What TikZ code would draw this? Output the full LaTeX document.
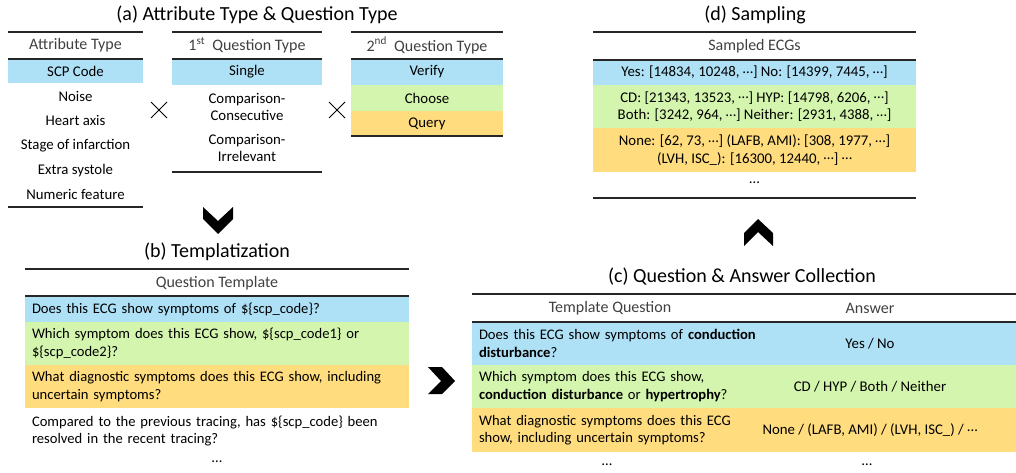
\documentclass[tikz,border=0pt]{standalone}
\usepackage{fontspec}
\setmainfont{Carlito}
\usetikzlibrary{shapes.misc}
\definecolor{qblue}{RGB}{174,224,246}
\definecolor{qgreen}{RGB}{212,245,173}
\definecolor{qorange}{RGB}{255,220,125}
\definecolor{hdgray}{RGB}{64,64,64}
\newcommand{\middots}{\raisebox{0.22em}{…}}

\begin{document}
\begin{tikzpicture}[x=1pt, y=-1pt]

\tikzset{
  ttl/.style={font=\fontsize{20}{24}\selectfont, inner sep=0pt},
  hd/.style={font=\fontsize{16}{18}\selectfont, text=hdgray, inner sep=0pt},
  cell/.style={font=\fontsize{14.8}{17.5}\selectfont, inner sep=0pt, align=center},
  qcell/.style={font=\fontsize{14.6}{17.5}\selectfont, inner xsep=7pt, inner ysep=0pt, align=left},
  rule/.style={line width=1.5pt, draw=black!85},
  chev/.style={fill=black},
  crs/.style={cross out, draw, line width=1pt, minimum size=15pt, inner sep=0pt},
}

\useasboundingbox (0,0) rectangle (1016,473);

% (a)
\node[ttl,name=ttlA] at (257,15) {(a) Attribute Type \& Question Type};

\node[hd,name=hdAttr] at (75.5,45.5) {Attribute Type};
\node[cell,name=scp,fill=qblue,minimum width=135,minimum height=24] at (75.5,71) {SCP Code};
\node[cell,name=noise] at (75.5,96) {Noise};
\node[cell,name=axis] at (75.5,120) {Heart axis};
\node[cell,name=stage] at (75.5,146) {Stage of infarction};
\node[cell,name=extra] at (75.5,171) {Extra systole};
\node[cell,name=numeric] at (75.5,194) {Numeric feature};
\draw[rule] (8,32) -- (143,32);
\draw[rule] (8,59) -- (143,59);
\draw[rule] (8,207) -- (143,207);

\node[crs,name=crossA] at (159,110) {};

\node[hd,name=hdFirst] at (247,45.5) {1\textsuperscript{st}~ Question Type};
\node[cell,name=single,fill=qblue,minimum width=150,minimum height=26] at (247,72) {Single};
\node[cell,name=consec] at (247,107) {Comparison-\\Consecutive};
\node[cell,name=irrel] at (247,148) {Comparison-\\Irrelevant};
\draw[rule] (172,32) -- (322,32);
\draw[rule] (172,59) -- (322,59);
\draw[rule] (172,172) -- (322,172);

\node[crs,name=crossB] at (337,110) {};

\node[hd,name=hdSecond] at (427,45.5) {2\textsuperscript{nd}~ Question Type};
\node[cell,name=verify,fill=qblue,minimum width=152,minimum height=26] at (427,72) {Verify};
\node[cell,name=choose,fill=qgreen,minimum width=152,minimum height=26] at (427,98) {Choose};
\node[cell,name=query,fill=qorange,minimum width=152,minimum height=25] at (427,123.5) {Query};
\draw[rule] (351,32) -- (503,32);
\draw[rule] (351,59) -- (503,59);
\draw[rule] (351,136) -- (503,136);

\fill[chev] (203,207) -- (203,219) -- (218,234) -- (233,219) -- (233,207) -- (218,221) -- cycle;

% (b)
\node[ttl,name=ttlB] at (217,252) {(b) Templatization};
\node[hd,name=hdTemplate] at (217,283) {Question Template};
\node[qcell,name=tplVerify,fill=qblue,text width=370,minimum height=26] at (217,309) {Does this ECG show symptoms of \$\{scp\_code\}?};
\node[qcell,name=tplChoose,fill=qgreen,text width=370,minimum height=43] at (217,343.5) {Which symptom does this ECG show, \$\{scp\_code1\} or\\ \$\{scp\_code2\}?};
\node[qcell,name=tplQuery,fill=qorange,text width=370,minimum height=43] at (217,386.5) {What diagnostic symptoms does this ECG show, including\\ uncertain symptoms?};
\node[qcell,name=tplCompare,text width=370,minimum height=43] at (217,431) {Compared to the previous tracing, has \$\{scp\_code\} been\\ resolved in the recent tracing?};
\node[cell,name=tplMore] at (217,463) {\middots};
\draw[rule] (25,269) -- (409,269);
\draw[rule] (25,296) -- (409,296);

\fill[chev] (428,367) -- (442,367) -- (455,381) -- (442,394) -- (428,394) -- (441,381) -- cycle;

% (c)
\node[ttl,name=ttlC] at (742,277) {(c) Question \& Answer Collection};
\node[hd,name=hdQuestion] at (610,308) {Template Question};
\node[hd,name=hdAnswer] at (870,308) {Answer};
\node[qcell,name=qaVerify,fill=qblue,text width=530,minimum height=43] at (744,343.5) {Does this ECG show symptoms of \textbf{conduction}\\ \textbf{disturbance}?};
\node[qcell,name=qaChoose,fill=qgreen,text width=530,minimum height=43] at (744,386.5) {Which symptom does this ECG show,\\ \textbf{conduction disturbance} or \textbf{hypertrophy}?};
\node[qcell,name=qaQuery,fill=qorange,text width=530,minimum height=44] at (744,430) {What diagnostic symptoms does this ECG\\ show, including uncertain symptoms?};
\node[cell,name=ansVerify] at (870,343.5) {Yes / No};
\node[cell,name=ansChoose] at (870,386.5) {CD / HYP / Both / Neither};
\node[cell,name=ansQuery] at (870,430) {None / (LAFB, AMI) / (LVH, ISC\_) / \middots};
\node[cell,name=qaMore] at (607,466) {\middots};
\node[cell,name=ansMore] at (867,466) {\middots};
\draw[rule] (472,294) -- (1016,294);
\draw[rule] (472,322) -- (1016,322);

\fill[chev] (744,246) -- (744,233) -- (758,219) -- (773,233) -- (773,246) -- (758,232) -- cycle;

% (d)
\node[ttl,name=ttlD] at (755,15) {(d) Sampling};
\node[hd,name=hdSampled] at (754.5,46) {Sampled ECGs};
\node[cell,name=smpVerify,fill=qblue,minimum width=323,minimum height=25] at (754.5,72.5) {Yes: [14834, 10248, \middots] No: [14399, 7445, \middots]};
\node[cell,name=smpChoose,fill=qgreen,minimum width=323,minimum height=43] at (754.5,106.5) {CD: [21343, 13523, \middots] HYP: [14798, 6206, \middots]\\ Both: [3242, 964, \middots] Neither: [2931, 4388, \middots]};
\node[cell,name=smpQuery,fill=qorange,minimum width=323,minimum height=44] at (754.5,150) {None: [62, 73, \middots] (LAFB, AMI): [308, 1977, \middots]\\ (LVH, ISC\_): [16300, 12440, \middots] \middots};
\node[cell,name=smpMore] at (754.5,184) {\middots};
\draw[rule] (593,32) -- (916,32);
\draw[rule] (593,60) -- (916,60);
\draw[rule] (593,198) -- (916,198);

\end{tikzpicture}
\end{document}
